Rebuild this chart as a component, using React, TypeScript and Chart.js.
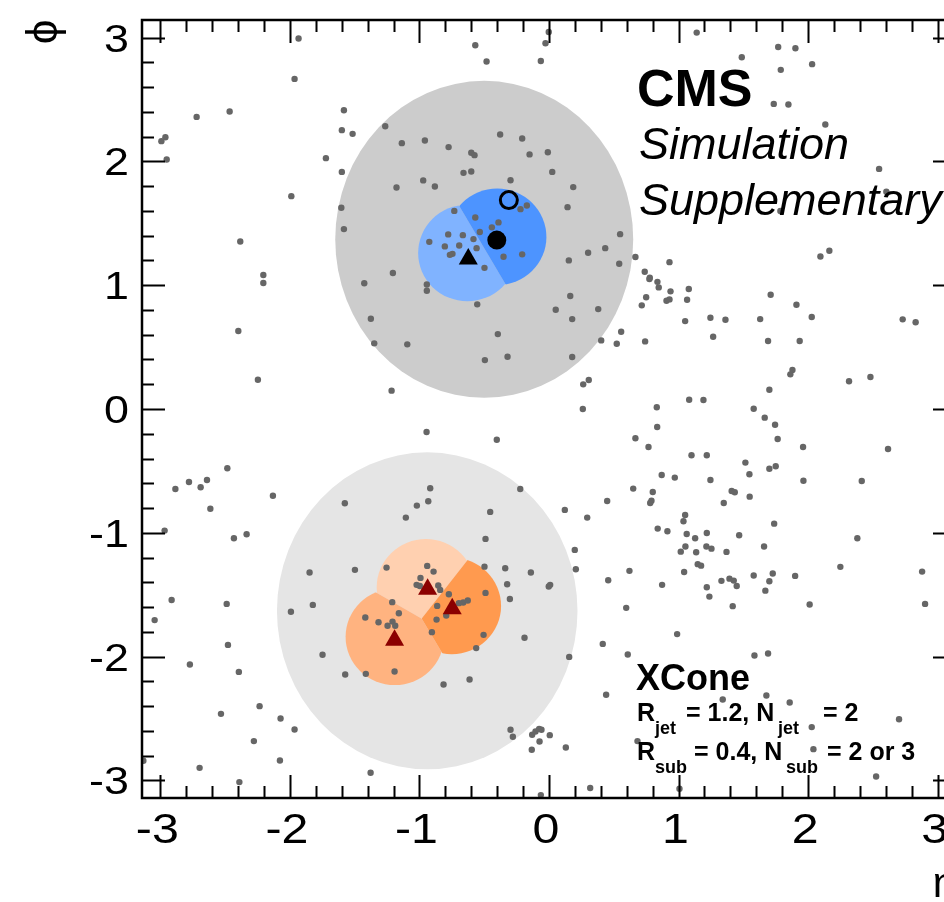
import React, { useEffect, useRef } from 'react';
import { Chart, registerables } from 'chart.js';

Chart.register(...registerables);

// ---------- data ----------
// particles (eta, phi)
const particleEta = [
  -1.933, -1.964, -2.720, -2.465, -1.583, -1.264, -1.599, -1.516, -1.136, -2.961, -2.992, -2.951, -1.722, -1.599, -1.177, -1.989, -1.603, -1.583, -2.383, -2.205, -1.205,
  -0.002, -0.027, -0.569, -0.482, -0.063, -0.958, -0.775, -0.377, -0.207, -0.600, -0.575, -0.150, -0.009, -0.660, -0.600, 0.025, -0.971, -0.881, -0.297, 0.187, 0.143, -0.731, -0.220, -0.171, -0.569, -0.390, -0.441, -0.534, 0.549, -0.778, -0.665, -0.583, -0.924, -0.804, -0.693, -0.559, -0.745, -0.765, 0.302, 0.434, 0.667, -0.351, -0.207, 0.153, -0.498, 0.542, 0.930, 0.739, 0.778,
  1.140, 1.769, 1.902, 1.488, 1.789, 2.031, 1.735, 1.848, 2.133, 2.548, 2.604, 1.786, 2.164, 2.095,
  -2.205, -1.426, -2.398, -1.375, -1.349, -1.094, -2.247, -1.215, -2.483, -2.884, -2.779, -2.689, -2.640, -2.131, -2.614, -1.576, -1.105, -2.967, -2.432, -2.334,
  -0.943, -0.943, -0.554, 0.164, 0.052, 0.179, 0.380, 0.775, 0.837, 0.847, 0.938, 0.750, 0.716, 0.907, 0.930, -0.395, 0.557, 0.403, 0.523, 0.742, -0.320, -0.495, 0.179, 0.307, 0.264, 0.261, 0.832, 0.835, -0.945, -0.403, 0.667, 0.768, 0.870, 0.971, 0.650, 0.801, 0.791, 0.781, 0.449, -0.917, -0.222, -0.932, -1.020, -0.454, 0.122, 0.295, 0.839, 0.914, -0.490,
  1.079, 1.066, 1.711, 1.910, 1.246, 1.362, 1.630, 2.028, 1.051, 2.730, 2.830, 1.267, 1.691, 1.935, 1.879, 1.863, 2.316, 2.481, 1.701, 1.082, 1.192, 1.580, 1.665, 1.745, 1.765, 1.961, 2.617, 1.100, 1.218, 1.516, 1.547, 1.701, 1.750, 1.246, 1.964, 2.414, 1.410, 1.434, 1.549, 1.349, 1.051, 1.038, 1.738, 1.063, 1.218, 1.128, 1.468, 2.380,
  -1.848, -1.498, -1.254, -2.913, -2.488, -1.823, -1.210, -1.159, -1.992, -3.044, -1.418, -1.316, -1.246, -1.208, -1.187, -2.478, -1.748, -2.772, -2.394, -1.573, -1.414, -1.192, -2.234, -2.532, -2.072, -1.964, -2.278, -3.131, -2.077, -2.697, -1.377, -2.390,
  0.199, 0.207, -0.940, -0.891, -0.992, -0.498, -0.338, -0.140, 0.457, 0.621, 0.873, -1.022, -0.997, -0.855, -0.840, -0.323, -0.002, 0.009, -0.773, -0.490, -0.302, -0.696, -0.662, -0.627, -0.863, 0.596, -0.868, -0.793, -0.904, -0.505, -0.189, 0.415, 0.608, -0.562, 0.156, -0.814, -0.613, 0.441, -0.297, -0.279, -0.130, -0.104, -0.076, -0.058, -0.073, 0.006, -0.133, 0.130, 0.683, 0.318, -0.063,
  1.053, 1.017, 1.136, 1.215, 1.254, 1.370, 1.660, 1.148, 1.174, 1.043, 2.249, 2.880, 1.580, 1.331, 1.393, 1.426, 1.449, 1.701, 1.727, 1.900, 1.218, 1.238, 1.670, 1.418, 2.012, 2.903, 0.989, 1.586, 1.691, 1.341, 1.678, 1.858, 2.702, 2.028, 2.041, 2.525, 1.007,
];
const particlePhi = [
  2.992, 2.666, 2.359, 2.403, 2.413, 2.284, 2.252, 2.222, 2.147, 2.195, 2.163, 2.015, 2.026, 1.915, 1.789, 1.719, 1.625, 1.453, 1.353, 1.082, 1.098,
  3.045, 2.954, 2.938, 2.806, 2.811, 2.169, 2.115, 2.217, 2.185, 2.069, 2.050, 2.056, 2.074, 1.907, 1.918, 1.915, 1.846, 1.797, 1.848, 1.792, 1.630, 1.600, 1.614, 1.644, 1.547, 1.507, 1.467, 1.429, 1.412, 1.410, 1.404, 1.372, 1.350, 1.313, 1.321, 1.299, 1.253, 1.245, 1.262, 1.299, 1.227, 1.229, 1.249, 1.200, 1.140, 1.173, 1.186, 1.108, 1.060,
  3.040, 2.924, 2.914, 2.841, 2.739, 2.785, 2.464, 2.459, 2.298, 1.939, 1.754, 1.600, 1.278, 1.232,
  1.017, 1.015, 0.630, 0.729, 0.530, 0.522, 0.236, 0.148, -0.479, -0.646, -0.589, -0.632, -0.573, -0.700, -0.805, -0.761, -0.877, -0.982, -1.044, -1.011,
  1.006, 0.955, 0.845, 0.912, 0.801, 0.726, 0.807, 1.049, 1.027, 0.982, 0.950, 0.902, 0.837, 0.874, 0.885, 0.605, 0.624, 0.554, 0.527, 0.546, 0.422, 0.395, 0.420, 0.234, 0.199, 0.000, 0.014, -0.145, -0.186, -0.248, -0.236, -0.307, -0.533, -0.554, -0.643, -0.670, -0.740, -0.759, -0.743, -0.640, -0.646, -0.745, -0.780, -0.831, -0.815, -0.877, -0.966, -0.987, -1.049,
  0.969, 0.882, 0.923, 0.842, 0.737, 0.721, 0.726, 0.743, 0.710, 0.724, 0.700, 0.584, 0.549, 0.549, 0.315, 0.280, 0.224, 0.258, 0.156, 0.075, 0.073, 0.002, -0.070, -0.127, -0.242, -0.307, -0.323, -0.374, -0.374, -0.433, -0.527, -0.482, -0.462, -0.573, -0.579, -0.581, -0.662, -0.672, -0.708, -0.759, -0.856, -0.906, -0.926, -1.009, -1.001, -1.044, -1.019, -1.044,
  -1.321, -1.299, -1.281, -1.542, -1.574, -1.582, -1.560, -1.649, -1.638, -1.705, -1.684, -1.722, -1.751, -1.717, -1.751, -1.905, -1.985, -2.064, -2.123, -2.144, -2.139, -2.120, -2.400, -2.462, -2.500, -2.588, -2.682, -2.841, -2.839, -2.898, -2.938, -3.013,
  -1.138, -1.294, -1.267, -1.313, -1.364, -1.273, -1.286, -1.321, -1.383, -1.307, -1.420, -1.420, -1.430, -1.426, -1.461, -1.415, -1.434, -1.420, -1.496, -1.485, -1.534, -1.568, -1.563, -1.547, -1.590, -1.606, -1.701, -1.668, -1.802, -1.824, -1.848, -1.897, -1.983, -1.931, -2.002, -2.225, -2.185, -2.308, -2.591, -2.647, -2.631, -2.605, -2.583, -2.591, -2.685, -2.634, -2.752, -2.734, -2.682, -3.061, -3.118,
  -1.111, -1.152, -1.157, -1.111, -1.128, -1.154, -1.111, -1.253, -1.265, -1.316, -1.275, -1.313, -1.345, -1.388, -1.370, -1.386, -1.429, -1.391, -1.329, -1.348, -1.439, -1.515, -1.467, -1.592, -1.579, -1.574, -1.818, -1.991, -1.975, -2.346, -2.314, -2.370, -2.505, -2.569, -2.747, -2.968, -3.067,
];

// XCone jets (eta, phi, extent in eta, extent in phi)
const jetEta = [-0.50, -0.94];
const jetPhi = [1.37, -1.63];
const jetExtentEta = [1.15, 1.16];
const jetExtentPhi = [1.28, 1.28];

// subjets: which jet they belong to, axis position, extent
const subjetJet = [0, 0, 1, 1, 1];
const subjetEta = [-0.63, -0.40, -0.95, -1.19, -0.75];
const subjetPhi = [1.26, 1.39, -1.44, -1.84, -1.59];
const subjetExtentEta = [0.38, 0.38, 0.38, 0.38, 0.38];
const subjetExtentPhi = [0.39, 0.39, 0.39, 0.39, 0.39];

// subjet axis markers (triangles)
const blueAxisEta = [-0.623];
const blueAxisPhi = [1.211];
const redAxisEta = [-1.192, -0.937, -0.747];
const redAxisPhi = [-1.867, -1.456, -1.614];
// jet axis markers
const filledAxisEta = [-0.403];
const filledAxisPhi = [1.364];
const openAxisEta = [-0.310];
const openAxisPhi = [1.687];

// axis ticks
const xTickValues = [-3, -2, -1, 0, 1, 2, 3];
const xTickLabels = ['-3', '-2', '-1', '0', '1', '2', '3'];
const yTickValues = [-3, -2, -1, 0, 1, 2, 3];
const yTickLabels = ['-3', '-2', '-1', '0', '1', '2', '3'];

// ---------- styles ----------
const jetColors = ['#cccccc', '#e5e5e5'];
const subjetColors = ['#80b3ff', '#4d94ff', '#ffd0b0', '#ffb380', '#ff9a4f'];
const FONT = '"Liberation Sans", Arial, Helvetica, sans-serif';

const pts = (xs: number[], ys: number[]) => xs.map((x, i) => ({ x, y: ys[i] }));

const regionsPlugin = {
  id: 'regions',
  beforeDatasetsDraw(chart: any) {
    const { ctx, chartArea, scales } = chart;
    const xs = scales.x;
    const ys = scales.y;
    const px = (v: number) => xs.getPixelForValue(v);
    const py = (v: number) => ys.getPixelForValue(v);
    ctx.save();
    ctx.beginPath();
    ctx.rect(chartArea.left, chartArea.top, chartArea.right - chartArea.left, chartArea.bottom - chartArea.top);
    ctx.clip();
    const ellipse = (e: number, p: number, re: number, rp: number) => {
      const cx = px(e);
      const cy = py(p);
      ctx.beginPath();
      ctx.ellipse(cx, cy, Math.abs(px(e + re) - cx), Math.abs(py(p + rp) - cy), 0, 0, Math.PI * 2);
    };
    jetEta.forEach((e, i) => {
      ellipse(e, jetPhi[i], jetExtentEta[i], jetExtentPhi[i]);
      ctx.fillStyle = jetColors[i];
      ctx.fill();
    });
    subjetEta.forEach((e, i) => {
      ctx.save();
      const p = subjetPhi[i];
      subjetEta.forEach((e2, j) => {
        if (j === i || subjetJet[j] !== subjetJet[i]) return;
        const p2 = subjetPhi[j];
        const mx = (e + e2) / 2;
        const my = (p + p2) / 2;
        let nx = e2 - e;
        let ny = p2 - p;
        const len = Math.hypot(nx, ny);
        nx /= len;
        ny /= len;
        const dx = -ny;
        const dy = nx;
        const L = 20;
        const poly = [
          [mx + dx * L, my + dy * L],
          [mx + dx * L - nx * L, my + dy * L - ny * L],
          [mx - dx * L - nx * L, my - dy * L - ny * L],
          [mx - dx * L, my - dy * L],
        ];
        ctx.beginPath();
        poly.forEach(([a, b], k) => {
          if (k === 0) ctx.moveTo(px(a), py(b));
          else ctx.lineTo(px(a), py(b));
        });
        ctx.closePath();
        ctx.clip();
      });
      ellipse(e, p, subjetExtentEta[i], subjetExtentPhi[i]);
      ctx.fillStyle = subjetColors[i];
      ctx.fill();
      ctx.restore();
    });
    ctx.restore();
  },
};

const stretchText = (ctx: any, text: string, x: number, y: number, sx: number, align: string) => {
  ctx.save();
  ctx.translate(x, y);
  ctx.scale(sx, 1);
  ctx.textAlign = align;
  ctx.fillText(text, 0, 0);
  ctx.restore();
};

const framePlugin = {
  id: 'frame',
  afterDraw(chart: any) {
    const { ctx, chartArea, scales } = chart;
    const { left, right, top, bottom } = chartArea;
    const xs = scales.x;
    const ys = scales.y;
    ctx.save();
    ctx.strokeStyle = '#000';
    // ticks
    ctx.lineWidth = 2;
    ctx.beginPath();
    for (let k = -15; k <= 15; k++) {
      const v = k * 0.2;
      if (v < -Math.PI || v > Math.PI) continue;
      const major = k % 5 === 0;
      const len = major ? 23 : 12;
      const x = Math.round(xs.getPixelForValue(v)) + 0.5;
      ctx.moveTo(x, bottom);
      ctx.lineTo(x, bottom - len);
      ctx.moveTo(x, top);
      ctx.lineTo(x, top + len);
      const y = Math.round(ys.getPixelForValue(v)) + 0.5;
      ctx.moveTo(left, y);
      ctx.lineTo(left + len, y);
      ctx.moveTo(right, y);
      ctx.lineTo(right - len, y);
    }
    ctx.stroke();
    // frame
    ctx.lineWidth = 2.5;
    ctx.strokeRect(left, top, right - left, bottom - top);

    // tick labels
    ctx.fillStyle = '#000';
    ctx.textBaseline = 'alphabetic';
    ctx.font = `39px ${FONT}`;
    yTickValues.forEach((v, i) => {
      stretchText(ctx, yTickLabels[i], 129, ys.getPixelForValue(v) + 14, 1.15, 'right');
    });
    ctx.font = `42px ${FONT}`;
    xTickValues.forEach((v, i) => {
      stretchText(ctx, xTickLabels[i], xs.getPixelForValue(v) - 3, 843, 1.15, 'center');
    });

    // axis titles
    ctx.font = `44px ${FONT}`;
    ctx.save();
    ctx.translate(45, 32);
    ctx.rotate(-Math.PI / 2);
    ctx.textAlign = 'center';
    ctx.textBaseline = 'middle';
    ctx.fillText('ϕ', 0, 0);
    ctx.restore();
    ctx.font = `42px ${FONT}`;
    ctx.textAlign = 'right';
    ctx.fillText('η', right, 897);

    // CMS label
    ctx.textAlign = 'left';
    ctx.font = `bold 52px ${FONT}`;
    ctx.fillText('CMS', 637, 106);
    ctx.font = `italic 45px ${FONT}`;
    ctx.fillText('Simulation', 639, 159);
    ctx.fillText('Supplementary', 639, 215);

    // XCone label
    ctx.font = `bold 36px ${FONT}`;
    ctx.fillText('XCone', 636, 690);
    const big = `bold 25px ${FONT}`;
    const small = `bold 18px ${FONT}`;
    const line = (parts: [string, boolean, number][], base: number) => {
      parts.forEach(([t, sub, x]) => {
        ctx.font = sub ? small : big;
        ctx.fillText(t, x, sub ? base + 13 : base);
      });
    };
    line([
      ['R', false, 637],
      ['jet', true, 655],
      ['= 1.2, N', false, 686],
      ['jet', true, 778],
      ['= 2', false, 823],
    ], 721);
    line([
      ['R', false, 637],
      ['sub', true, 655],
      ['= 0.4, N', false, 694],
      ['sub', true, 786],
      ['= 2 or 3', false, 827],
    ], 760);
    ctx.restore();
  },
};

export default function App() {
  const ref = useRef<HTMLCanvasElement | null>(null);
  useEffect(() => {
    if (!ref.current) return;
    const chart = new Chart(ref.current, {
      type: 'scatter',
      data: {
        datasets: [
          {
            label: 'open axis',
            data: pts(openAxisEta, openAxisPhi),
            pointStyle: 'circle',
            pointRadius: 8.5,
            borderWidth: 3,
            borderColor: '#000',
            backgroundColor: 'rgba(0,0,0,0)',
          },
          {
            label: 'jet axis',
            data: pts(filledAxisEta, filledAxisPhi),
            pointStyle: 'circle',
            pointRadius: 9.5,
            borderWidth: 0,
            backgroundColor: '#000',
          },
          {
            label: 'blue subjet axes',
            data: pts(blueAxisEta, blueAxisPhi),
            pointStyle: 'triangle',
            pointRadius: 11,
            borderWidth: 0,
            backgroundColor: '#000',
          },
          {
            label: 'red subjet axes',
            data: pts(redAxisEta, redAxisPhi),
            pointStyle: 'triangle',
            pointRadius: 11,
            borderWidth: 0,
            backgroundColor: '#8b0000',
          },
          {
            label: 'particles',
            data: pts(particleEta, particlePhi),
            pointStyle: 'circle',
            pointRadius: 3.2,
            borderWidth: 0,
            backgroundColor: '#666666',
          },
        ],
      },
      options: {
        responsive: false,
        animation: false,
        devicePixelRatio: 1,
        events: [],
        layout: { padding: { left: 0, top: 20, right: 24, bottom: 0 } },
        plugins: { legend: { display: false }, tooltip: { enabled: false } },
        scales: {
          x: {
            type: 'linear',
            min: -Math.PI,
            max: Math.PI,
            grid: { display: false },
            border: { display: false },
            ticks: { display: false },
            afterFit: (s: any) => {
              s.height = 104;
            },
          },
          y: {
            type: 'linear',
            min: -Math.PI,
            max: Math.PI,
            grid: { display: false },
            border: { display: false },
            ticks: { display: false },
            afterFit: (s: any) => {
              s.width = 142;
            },
          },
        },
      },
      plugins: [regionsPlugin, framePlugin],
    } as any);
    return () => chart.destroy();
  }, []);
  return (
    <div style={{ position: 'fixed', left: 0, top: 0, width: 944, height: 902, overflow: 'hidden', background: '#fff' }}>
      <canvas ref={ref} width={980} height={902} style={{ width: 980, height: 902, display: 'block' }} />
    </div>
  );
}
